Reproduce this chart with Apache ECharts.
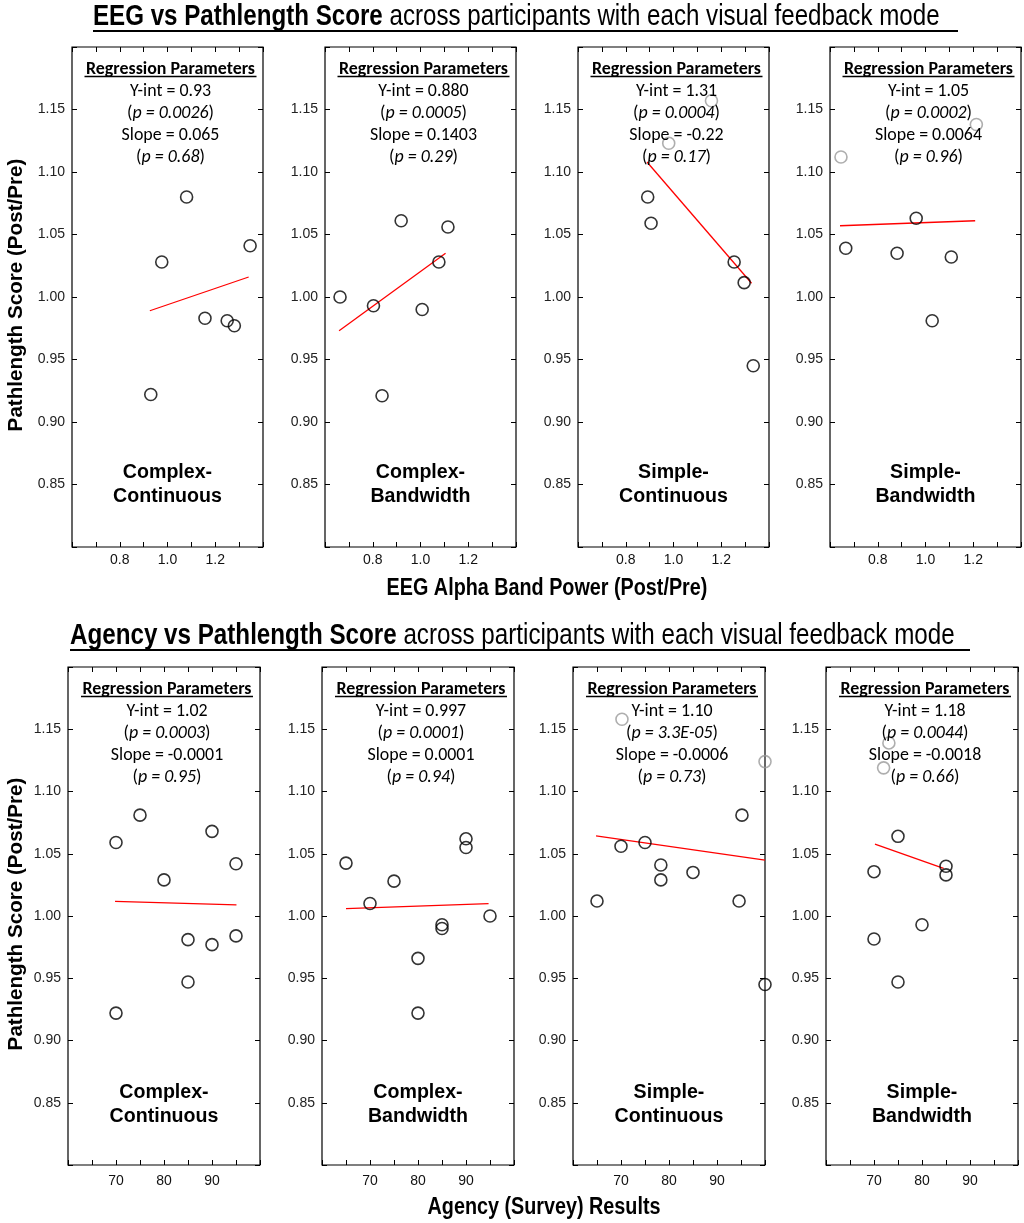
<!DOCTYPE html>
<html><head><meta charset="utf-8">
<script src="https://cdn.jsdelivr.net/npm/echarts@6/dist/echarts.min.js"></script>
<style>html,body{margin:0;padding:0;background:#fff}#c{width:1024px;height:1223px}</style>
</head><body><div id="c"></div>
<script>
// ---------------- DATA ----------------
const modes = ['Complex-\nContinuous', 'Complex-\nBandwidth', 'Simple-\nContinuous', 'Simple-\nBandwidth'];

// EEG row: [alpha power, pathlength score]
const eegCC = [[1.08,1.080],[0.976,1.028],[1.346,1.041],[1.157,0.983],[1.25,0.981],[1.28,0.977],[0.93,0.922]];
const eegCB = [[0.663,1.000],[0.803,0.993],[0.919,1.061],[0.839,0.921],[1.007,0.990],[1.077,1.028],[1.115,1.056]];
const eegSC = [[0.892,1.080],[0.906,1.059],[1.254,1.028],[1.296,1.0115],[1.334,0.945]];
const eegSB = [[0.666,1.039],[0.881,1.035],[0.961,1.063],[1.108,1.032],[1.028,0.981]];
const eegGrayCC = [];
const eegGrayCB = [];
const eegGraySC = [[1.159,1.157],[0.980,1.123]];
const eegGraySB = [[0.646,1.112],[1.213,1.138]];
const eegFitCC = [[0.926,0.989],[1.34,1.016]];
const eegFitCB = [[0.659,0.973],[1.105,1.035]];
const eegFitSC = [[0.889,1.108],[1.327,1.011]];
const eegFitSB = [[0.642,1.057],[1.208,1.061]];

// Agency row: [agency score, pathlength score]
const agCC = [[70,1.059],[75,1.081],[90,1.068],[95,1.042],[80,1.029],[85,0.981],[90,0.977],[95,0.984],[85,0.947],[70,0.922]];
const agCB = [[65,1.0425],[70,1.010],[75,1.028],[80,0.966],[80,0.922],[85,0.993],[85,0.990],[90,1.062],[90,1.055],[95,1.000]];
const agSC = [[65,1.012],[70,1.056],[75,1.059],[78.3,1.041],[78.3,1.029],[85,1.035],[95.2,1.081],[94.6,1.012],[100,0.945]];
const agSB = [[70,1.0356],[75,1.064],[85,1.040],[85,1.033],[80,0.993],[70,0.9815],[75,0.947]];
const agGrayCC = [];
const agGrayCB = [];
const agGraySC = [[70.2,1.158],[100,1.124]];
const agGraySB = [[73.1,1.139],[72,1.119]];
const agFitCC = [[69.8,1.0118],[95.1,1.009]];
const agFitCB = [[65,1.006],[94.7,1.010]];
const agFitSC = [[64.8,1.0644],[100,1.0449]];
const agFitSB = [[70.2,1.0578],[84.5,1.0383]];

// Regression parameter texts
const eegYint = ['0.93','0.880','1.31','1.05'];
const eegYintP = ['0.0026','0.0005','0.0004','0.0002'];
const eegSlope = ['0.065','0.1403','-0.22','0.0064'];
const eegSlopeP = ['0.68','0.29','0.17','0.96'];
const agYint = ['1.02','0.997','1.10','1.18'];
const agYintP = ['0.0003','0.0001','3.3E-05','0.0044'];
const agSlope = ['-0.0001','0.0001','-0.0006','-0.0018'];
const agSlopeP = ['0.95','0.94','0.73','0.66'];

// Axis ticks
const yTickLabels = ['0.85','0.90','0.95','1.00','1.05','1.10','1.15'];
const eegTickLabels = ['0.8','1.0','1.2'];
const agTickLabels = ['70','80','90'];

const title1Bold = 'EEG vs Pathlength Score';
const title1Rest = ' across participants with each visual feedback mode';
const title2Bold = 'Agency vs Pathlength Score';
const title2Rest = ' across participants with each visual feedback mode';
const eegXName = 'EEG Alpha Band Power (Post/Pre)';
const agXName = 'Agency (Survey) Results';
const yName = 'Pathlength Score (Post/Pre)';

// ---------------- FONTS ----------------
const mctx = document.createElement('canvas').getContext('2d');
function textW(font, s){ mctx.font = font; return mctx.measureText(s).width; }
function hasFont(name){
  const s = 'abcdefghijklmnopqrstuvwxyz0123456789';
  return textW('40px monospace', s) !== textW('40px "' + name + '", monospace', s) ||
         textW('40px serif', s) !== textW('40px "' + name + '", serif', s);
}
const hasNarrow = hasFont('Liberation Sans Narrow');
const NARROW = hasNarrow ? '"Liberation Sans Narrow"' : '"Liberation Sans"';
const NSX = hasNarrow ? 1 : 0.82;
const ARIAL = '"Liberation Sans", Arial, sans-serif';
const CAL = hasFont('Carlito') ? 'Carlito' : 'Lato';

function fitSize(weight, fam, s, target, sx){
  return 100 * target / (textW(weight + ' 100px ' + fam, s) * (sx || 1));
}
const t1Size = 100 * 847 / ((textW('bold 100px ' + NARROW, title1Bold) + textW('100px ' + NARROW, title1Rest)) * NSX);
const t2Size = 100 * 885 / ((textW('bold 100px ' + NARROW, title2Bold) + textW('100px ' + NARROW, title2Rest)) * NSX);
const xNameSize = fitSize('bold', NARROW, eegXName, 321, NSX);
const yNameSize = fitSize('bold', ARIAL, yName, 273, 1);
const regSize = fitSize('bold', CAL, 'Regression Parameters', 169, 1);

// ---------------- LAYOUT ----------------
const rowTop = [47, 667];
const rowH = [500, 498];
const colLeft = [[72, 325, 578, 830], [68, 322, 573, 826]];
const colW = [191, 192];

const rows = [
  {pts:[eegCC,eegCB,eegSC,eegSB], gray:[eegGrayCC,eegGrayCB,eegGraySC,eegGraySB], fit:[eegFitCC,eegFitCB,eegFitSC,eegFitSB],
   yint:eegYint, yintP:eegYintP, slope:eegSlope, slopeP:eegSlopeP, xmin:0.6, xmax:1.4, xint:0.1, labels:eegTickLabels, dec:1, lmargin:6},
  {pts:[agCC,agCB,agSC,agSB], gray:[agGrayCC,agGrayCB,agGraySC,agGraySB], fit:[agFitCC,agFitCB,agFitSC,agFitSB],
   yint:agYint, yintP:agYintP, slope:agSlope, slopeP:agSlopeP, xmin:60, xmax:100, xint:5, labels:agTickLabels, dec:0, lmargin:9}
];

const grid = [], xAxis = [], yAxis = [], series = [], graphic = [];
const tickLen = 5;

rows.forEach((R, r) => {
  for (let c = 0; c < 4; c++) {
    const gi = grid.length;
    const left = colLeft[r][c], top = rowTop[r], w = colW[r], h = rowH[r];
    grid.push({left: left, top: top, width: w, height: h, show: true, borderColor: '#000', borderWidth: 1.2, backgroundColor: 'transparent', containLabel: false});
    const base = {gridIndex: gi, type: 'value', min: R.xmin, max: R.xmax, interval: R.xint, splitLine: {show: false},
      axisLine: {show: false}, axisTick: {show: true, inside: true, length: tickLen, lineStyle: {color: '#000', width: 1}}};
    xAxis.push(Object.assign({}, base, {position: 'bottom',
      axisLabel: {show: true, margin: R.lmargin, color: '#111', fontFamily: NARROW, fontSize: hasNarrow ? 16 : 14,
        formatter: v => { const s = v.toFixed(R.dec); return R.labels.indexOf(s) >= 0 ? s : ''; }}}));
    xAxis.push(Object.assign({}, base, {position: 'top', axisLabel: {show: false}}));
    const ybase = {gridIndex: gi, type: 'value', min: 0.8, max: 1.2, interval: 0.05, splitLine: {show: false},
      axisLine: {show: false}, axisTick: {show: true, inside: true, length: tickLen, lineStyle: {color: '#000', width: 1}}};
    yAxis.push(Object.assign({}, ybase, {position: 'left',
      axisLabel: {show: true, margin: 7, color: '#222', fontFamily: ARIAL, fontSize: 14,
        formatter: v => { const s = v.toFixed(2); return yTickLabels.indexOf(s) >= 0 ? s : ''; }}}));
    yAxis.push(Object.assign({}, ybase, {position: 'right', axisLabel: {show: false}}));
    const xi = gi * 2, yi = gi * 2;
    series.push({type: 'line', xAxisIndex: xi, yAxisIndex: yi, data: R.fit[c], showSymbol: false, symbol: 'none',
      lineStyle: {color: '#ff0000', width: 1.3}, silent: true, z: 2, animation: false});
    series.push({type: 'scatter', xAxisIndex: xi, yAxisIndex: yi, data: R.pts[c], symbol: 'circle', symbolSize: 12,
      itemStyle: {color: 'rgba(255,255,255,0)', borderColor: '#000', borderWidth: 1.6}, clip: false, z: 3, animation: false});
    series.push({type: 'scatter', xAxisIndex: xi, yAxisIndex: yi, data: R.gray[c], symbol: 'circle', symbolSize: 12,
      itemStyle: {color: 'rgba(255,255,255,0)', borderColor: '#9a9a9a', borderWidth: 1.6}, clip: false, z: 3, animation: false});

    // Regression parameters block
    const cx = left + w / 2 + 3;
    const reg = (txt, y, rich) => graphic.push({type: 'text', x: cx, y: y, z: 10, silent: true,
      style: {text: txt, x: 0, y: 0, align: 'center', textAlign: 'center', verticalAlign: 'middle', textVerticalAlign: 'middle',
        fill: '#000', fontFamily: CAL, fontSize: regSize, rich: rich}});
    const richP = {n: {fontFamily: CAL, fontSize: regSize, fill: '#000'}, i: {fontFamily: CAL, fontSize: regSize, fontStyle: 'italic', fill: '#000'}};
    graphic.push({type: 'text', x: cx, y: top + 23, z: 10, silent: true,
      style: {text: 'Regression Parameters', x: 0, y: 0, align: 'center', textAlign: 'center', verticalAlign: 'middle', textVerticalAlign: 'middle',
        fill: '#000', fontFamily: CAL, fontWeight: 'bold', fontSize: regSize}});
    graphic.push({type: 'line', z: 10, silent: true, shape: {x1: cx - 86, y1: top + 29.5, x2: cx + 86, y2: top + 29.5}, style: {stroke: '#000', lineWidth: 1.3}});
    reg('{n|Y-int = ' + R.yint[c] + '}', top + 45, richP);
    reg('{n|(}{i|p = ' + R.yintP[c] + '}{n|)}', top + 67, richP);
    reg('{n|Slope = ' + R.slope[c] + '}', top + 89, richP);
    reg('{n|(}{i|p = ' + R.slopeP[c] + '}{n|)}', top + 111, richP);

    // Mode label
    graphic.push({type: 'text', x: left + w / 2, y: top + 438, z: 10, silent: true,
      style: {text: modes[c], x: 0, y: 0, align: 'center', textAlign: 'center', verticalAlign: 'middle', textVerticalAlign: 'middle',
        fill: '#000', fontFamily: ARIAL, fontWeight: 'bold', fontSize: 19.6, lineHeight: 24}});
  }
});

// Titles
function titleText(x, y, bold, rest, size){
  graphic.push({type: 'text', x: x, y: y, scaleX: NSX, z: 10, silent: true,
    style: {text: '{b|' + bold + '}{r|' + rest + '}', x: 0, y: 0, align: 'left', textAlign: 'left', verticalAlign: 'middle', textVerticalAlign: 'middle',
      rich: {b: {fontFamily: NARROW, fontWeight: 'bold', fontSize: size, fill: '#000'}, r: {fontFamily: NARROW, fontSize: size, fill: '#000'}}}});
}
titleText(93, 17, title1Bold, title1Rest, t1Size);
graphic.push({type: 'line', z: 10, silent: true, shape: {x1: 93, y1: 31, x2: 958, y2: 31}, style: {stroke: '#000', lineWidth: 2}});
titleText(70, 636, title2Bold, title2Rest, t2Size);
graphic.push({type: 'line', z: 10, silent: true, shape: {x1: 70, y1: 650, x2: 970, y2: 650}, style: {stroke: '#000', lineWidth: 2}});

// Axis names
function nameText(x, y, s, fam, size, sx, rot){
  graphic.push({type: 'text', x: x, y: y, scaleX: sx, rotation: rot || 0, z: 10, silent: true,
    style: {text: s, x: 0, y: 0, align: 'center', textAlign: 'center', verticalAlign: 'middle', textVerticalAlign: 'middle',
      fill: '#000', fontFamily: fam, fontWeight: 'bold', fontSize: size}});
}
nameText(547, 588, eegXName, NARROW, xNameSize, NSX);
nameText(544, 1207, agXName, NARROW, xNameSize, NSX);
nameText(16, 295, yName, ARIAL, yNameSize, 1, Math.PI / 2);
nameText(16, 914, yName, ARIAL, yNameSize, 1, Math.PI / 2);

const chart = echarts.init(document.getElementById('c'), null, {renderer: 'canvas'});
chart.setOption({animation: false, backgroundColor: '#fff', grid, xAxis, yAxis, series, graphic});
</script>
</body></html>
